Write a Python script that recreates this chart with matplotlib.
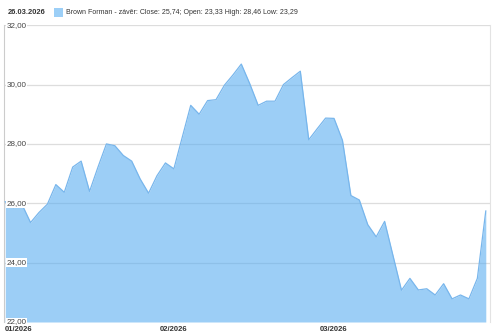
"""plot.py - Brown Forman closing price area chart"""

import numpy as np
import matplotlib.pyplot as plt
from matplotlib.patches import Rectangle

# Data: daily closing prices, Jan - Mar 2026
closes = [26.05, 25.85, 25.95, 25.35, 25.69, 25.97, 26.63, 26.37, 27.22, 27.42,
          26.40, 27.22, 28.00, 27.94, 27.61, 27.42, 26.82, 26.34, 26.93, 27.36,
          27.16, 28.23, 29.30, 29.00, 29.46, 29.49, 29.98, 30.32, 30.69, 30.03,
          29.30, 29.44, 29.44, 30.00, 30.23, 30.45, 28.14, 28.51, 28.87, 28.86,
          28.12, 26.26, 26.11, 25.28, 24.87, 25.39, 24.23, 23.07, 23.47, 23.08,
          23.12, 22.91, 23.29, 22.78, 22.91, 22.78, 23.47, 25.74]
month_pos = [0, 20, 39]
month_labels = ['01/2026', '02/2026', '03/2026']
y_ticks = [22, 24, 26, 28, 30, 32]

plt.rcParams['font.family'] = ['Liberation Sans', 'DejaVu Sans']

fig = plt.figure(figsize=(5, 3.35), dpi=100)
ax = fig.add_axes([0.008, 0.0388, 0.972, 0.886])

x = np.arange(len(closes))
ax.fill_between(x, 22, closes, color='#5aaef0', alpha=0.6, linewidth=0, zorder=2)
ax.plot(x, closes, color='#78b6ec', linewidth=0.9, zorder=3)

ax.set_xlim(-0.15, len(closes) - 0.5)
ax.set_ylim(22, 32)

# horizontal grid
for v in y_ticks[1:]:
    ax.axhline(v, color='#dddddd', linewidth=0.9, zorder=1)
ax.set_yticks([])
ax.set_xticks([])

for s in ['top', 'bottom']:
    ax.spines[s].set_visible(False)
ax.spines['left'].set_color('#cccccc')
ax.spines['right'].set_color('#e3e3e3')

# y labels inside the plot
for v in y_ticks:
    ax.text(0.15, v, f'{v:.2f}'.replace('.', ','), fontsize=5.8, color='#444444',
            va='center', ha='left', zorder=5,
            bbox=dict(facecolor='white', edgecolor='none', pad=0.6))

# month labels under the axis
for i, (p, lab) in enumerate(zip(month_pos, month_labels)):
    ax.text(p if i else -0.05, 21.85, lab, fontsize=5.5, fontweight='bold',
            color='#333333', ha='left' if i == 0 else 'center', va='top',
            clip_on=False)

# header with date and legend
fig.text(8 / 500, 1 - 13 / 335, '26.03.2026', fontsize=5.4, fontweight='bold',
         color='#333333', va='center')
fig.patches.append(Rectangle((54 / 500, 1 - 17 / 335), 9 / 500, 9 / 335,
                             transform=fig.transFigure, facecolor='#9ccff7',
                             edgecolor='none'))
fig.text(66 / 500, 1 - 13 / 335,
         'Brown Forman - závěr: Close: 25,74; Open: 23,33 High: 28,46 Low: 23,29',
         fontsize=5.0, color='#333333', va='center')

plt.savefig('out.png', dpi=100)
